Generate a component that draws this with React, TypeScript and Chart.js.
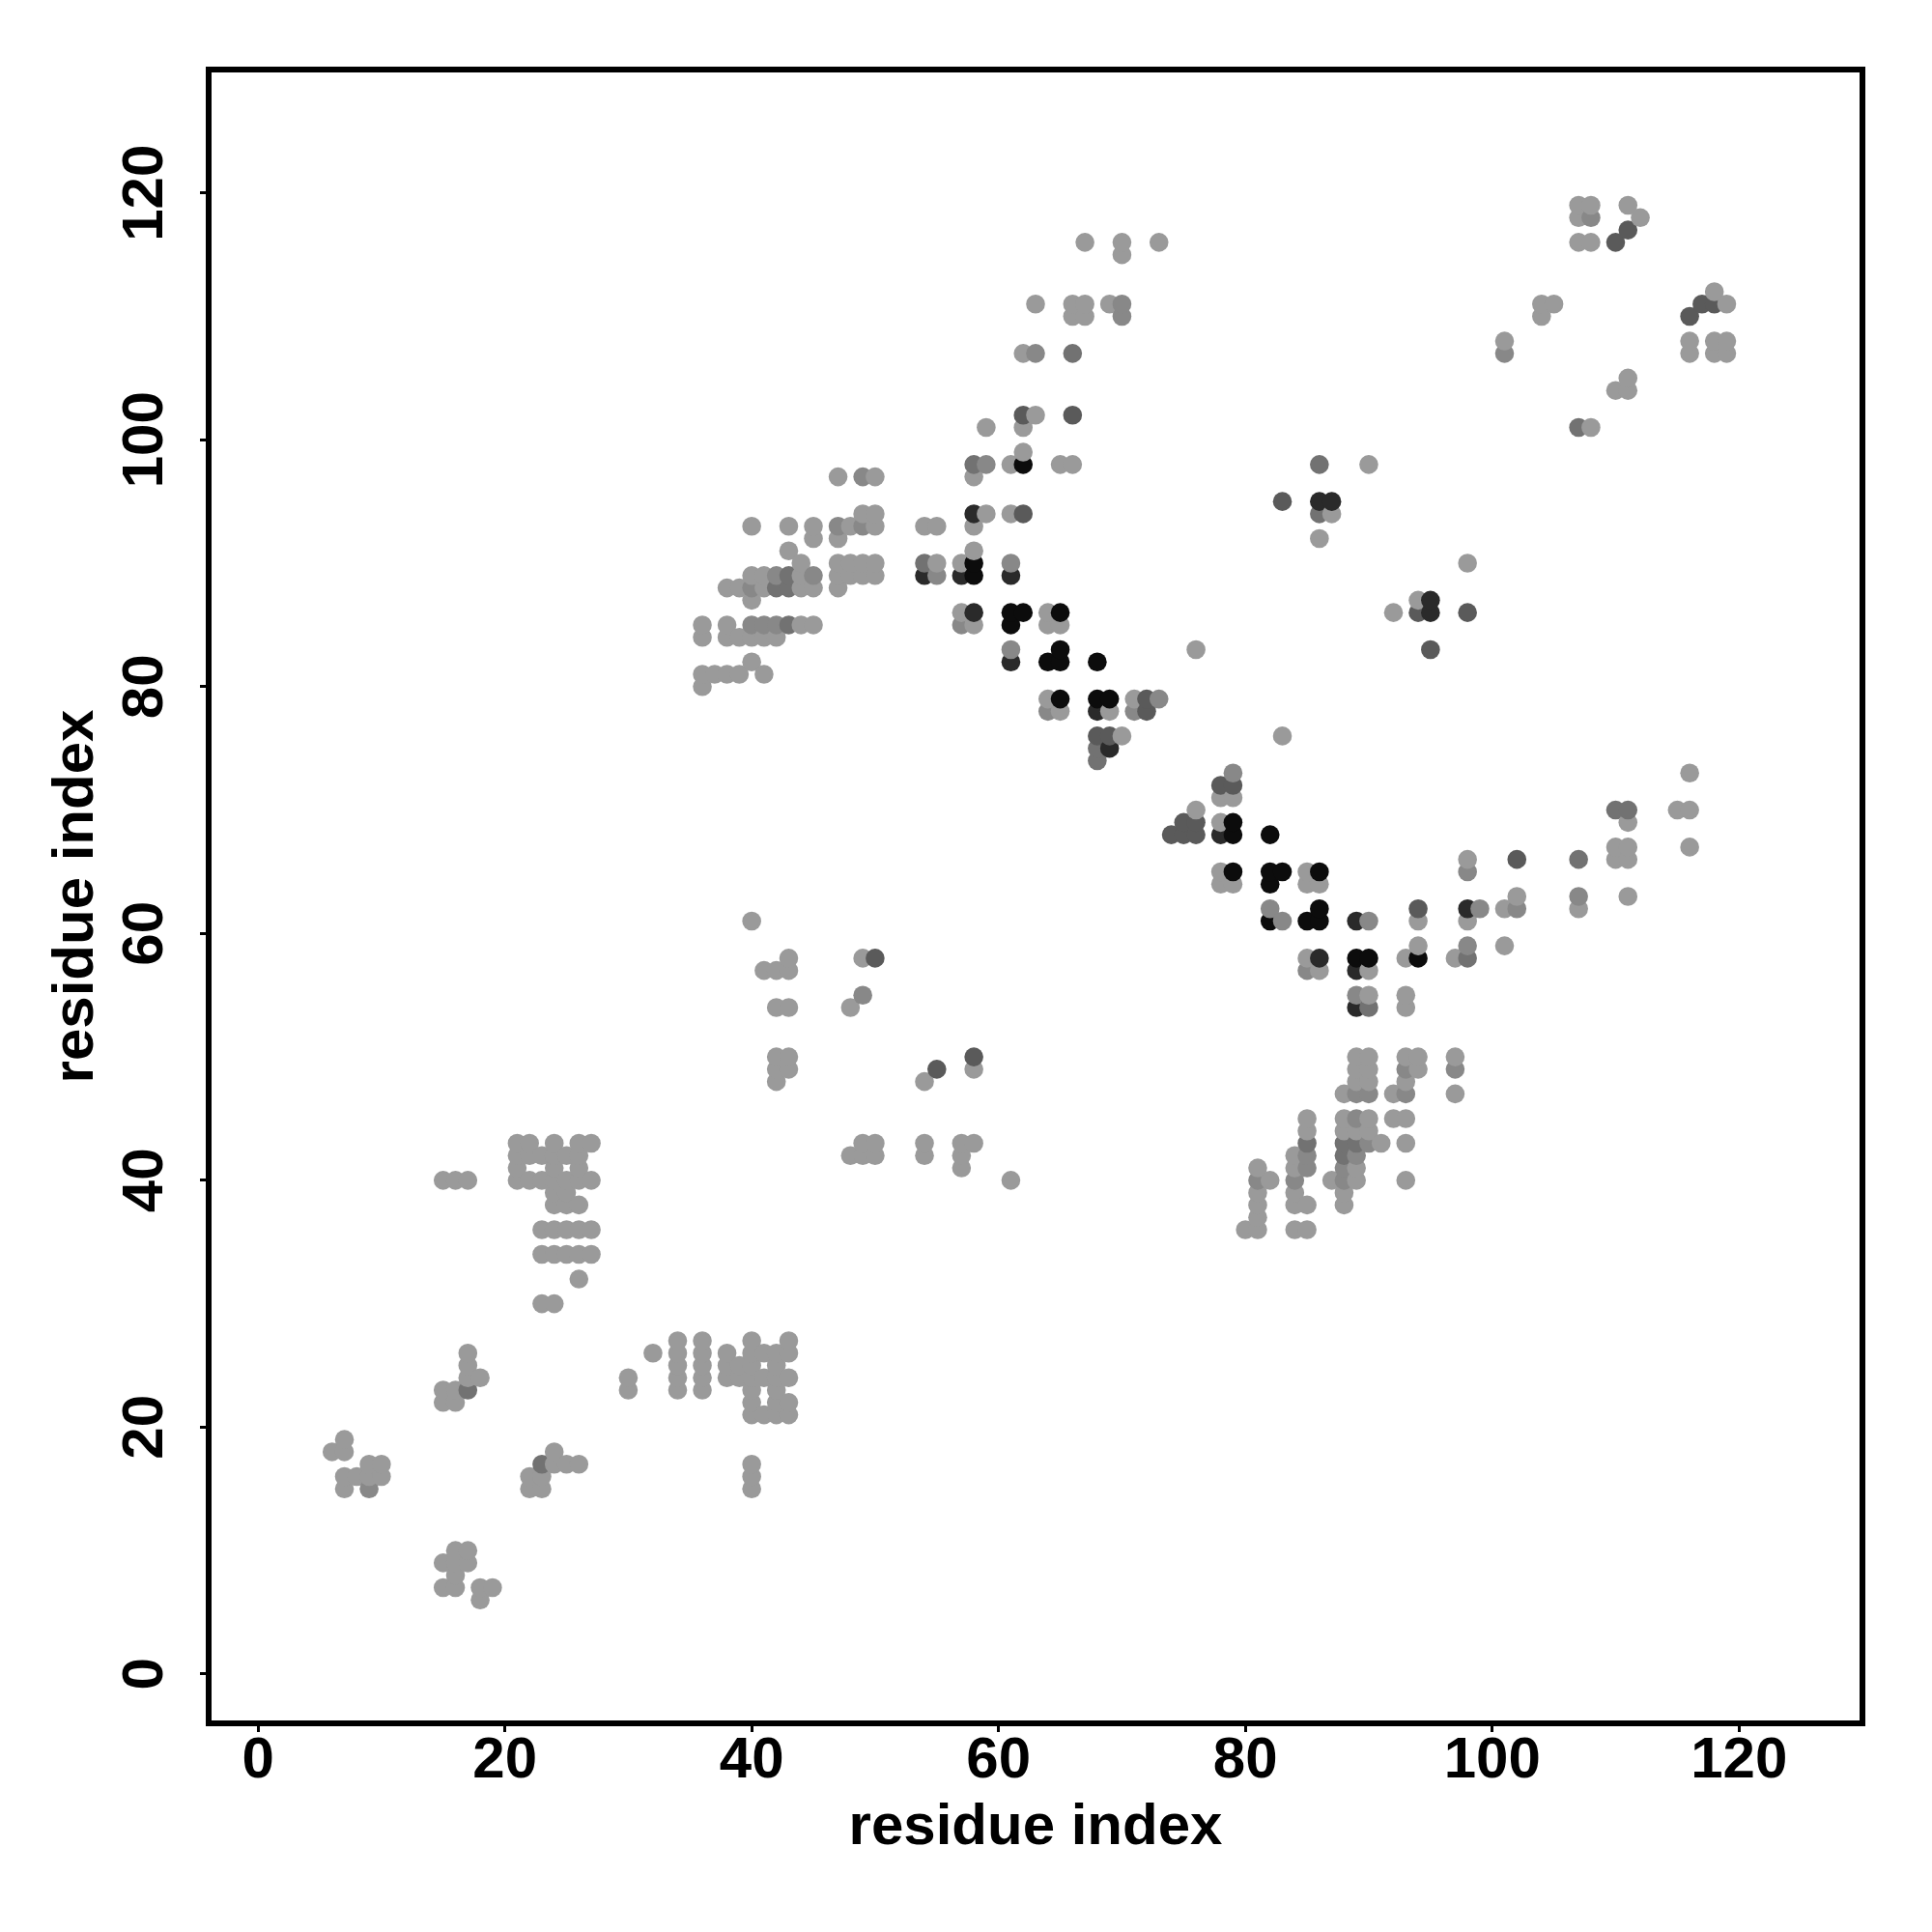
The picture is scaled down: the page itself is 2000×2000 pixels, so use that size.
import React, { useEffect, useRef } from "react";
import { Chart, registerables } from "chart.js";

Chart.register(...registerables);

type Row = [number, number[]];

const tickValues = [0, 20, 40, 60, 80, 100, 120];
const xAxisTitle = "residue index";
const yAxisTitle = "residue index";

// contacts grouped by shade: [residue y, residue x list]
const lightRows: Row[] = [
  [6, [18]],
  [7, [15, 16, 18, 19]],
  [8, [16]],
  [9, [15, 16, 17]],
  [10, [16, 17]],
  [15, [7, 22, 23, 40]],
  [16, [7, 8, 9, 10, 22, 23, 40]],
  [17, [9, 10, 24, 25, 26, 40]],
  [18, [6, 7, 24]],
  [19, [7]],
  [21, [40, 41, 42, 43]],
  [22, [15, 16, 40, 42, 43]],
  [23, [15, 16, 30, 34, 36, 40, 42]],
  [24, [17, 18, 30, 34, 36, 38, 39, 40, 41, 42, 43]],
  [25, [17, 34, 36, 38, 39, 40, 42]],
  [26, [17, 32, 34, 36, 38, 40, 41, 42, 43]],
  [27, [34, 36, 40, 43]],
  [30, [23, 24]],
  [32, [26]],
  [34, [23, 24, 25, 26, 27]],
  [36, [23, 24, 25, 26, 27, 80, 81, 84, 85]],
  [37, [81]],
  [38, [24, 25, 26, 81, 84, 85, 88]],
  [39, [24, 25, 81, 84, 88]],
  [40, [15, 16, 17, 21, 22, 23, 24, 25, 26, 27, 61, 82, 87, 89, 93]],
  [41, [21, 24, 26, 57, 81, 84, 89]],
  [42, [21, 22, 23, 24, 25, 26, 48, 49, 50, 54, 57, 84]],
  [43, [21, 22, 24, 26, 27, 49, 50, 54, 57, 58, 90, 91, 93]],
  [44, [85, 88, 89, 90]],
  [45, [85, 88, 90, 92, 93]],
  [47, [88, 92, 97]],
  [48, [42, 54, 89, 90, 93]],
  [49, [42, 43, 58, 89, 90, 94]],
  [50, [42, 43, 89, 90, 93, 94, 97]],
  [54, [42, 43, 48, 93]],
  [55, [90, 93]],
  [57, [41, 42, 43, 86, 90]],
  [58, [43, 49, 85, 93, 97]],
  [59, [94, 101]],
  [61, [40, 94, 98]],
  [62, [101, 107]],
  [63, [102, 111]],
  [64, [78, 79, 85, 86]],
  [65, [78, 85]],
  [66, [98, 110, 111]],
  [67, [110, 111, 116]],
  [69, [78, 111]],
  [70, [76, 115, 116]],
  [71, [78, 79]],
  [73, [116]],
  [76, [70, 83]],
  [78, [65, 69]],
  [79, [64, 71]],
  [80, [36]],
  [81, [36, 37, 38, 39, 41]],
  [82, [40]],
  [83, [76]],
  [84, [36, 38, 39, 40, 41, 42]],
  [85, [36, 38, 44, 45, 58, 64, 65]],
  [86, [57, 64, 92]],
  [87, [40, 94]],
  [88, [38, 39, 41, 44, 45, 47]],
  [89, [40, 41, 44, 47, 48, 49, 50]],
  [90, [44, 47, 48, 49, 50, 55, 57, 98]],
  [91, [43, 58]],
  [92, [45, 47, 86]],
  [93, [40, 43, 45, 48, 50, 54, 55, 58]],
  [94, [49, 50, 59, 61, 87]],
  [97, [47, 50, 58]],
  [98, [61, 65, 66, 90]],
  [99, [62]],
  [101, [59, 62, 108]],
  [102, [63]],
  [104, [110, 111]],
  [105, [111]],
  [107, [62, 116, 118, 119]],
  [108, [101, 116, 118, 119]],
  [110, [66, 67, 104]],
  [111, [63, 66, 67, 69, 104, 105, 119]],
  [112, [118]],
  [115, [70]],
  [116, [67, 70, 73, 107, 108]],
  [118, [107, 112]],
  [119, [107, 108, 111]],
];
const midRows: Row[] = [
  [15, [9]],
  [40, [81, 84, 88]],
  [41, [85, 88]],
  [42, [85, 89]],
  [43, [90]],
  [45, [89]],
  [47, [89, 90, 93]],
  [49, [93, 97]],
  [55, [49, 89]],
  [57, [85]],
  [59, [98]],
  [61, [83, 90]],
  [62, [82, 99, 102]],
  [63, [107]],
  [65, [98]],
  [73, [79]],
  [78, [64, 71]],
  [79, [73]],
  [83, [61]],
  [85, [40, 41, 42, 57]],
  [88, [40]],
  [89, [42, 45, 55]],
  [90, [61]],
  [93, [47, 49]],
  [97, [49]],
  [98, [59]],
  [107, [63, 101]],
  [118, [108]],
  [110, [70]],
  [111, [70]],
];
const midDarkRows: Row[] = [
  [17, [23]],
  [23, [17]],
  [42, [88]],
  [43, [85, 88, 89]],
  [54, [90]],
  [58, [98]],
  [66, [107]],
  [70, [110, 111]],
  [74, [68]],
  [75, [68]],
  [85, [43]],
  [88, [42, 43]],
  [89, [43]],
  [90, [54]],
  [94, [86]],
  [98, [58, 86]],
  [101, [107]],
  [107, [66]],
];
const darkMidRows: Row[] = [
  [49, [55]],
  [50, [58]],
  [58, [50]],
  [62, [94]],
  [66, [102]],
  [68, [74, 75, 76]],
  [69, [75, 76]],
  [72, [78, 79]],
  [76, [68, 69]],
  [78, [72]],
  [79, [72]],
  [83, [95]],
  [86, [94, 98]],
  [94, [62]],
  [95, [83]],
  [102, [62, 66]],
  [110, [116]],
  [111, [117, 118]],
  [116, [110]],
  [117, [111]],
];
const darkRows: Row[] = [
  [54, [89]],
  [57, [89]],
  [58, [86]],
  [61, [89]],
  [62, [98]],
  [68, [78]],
  [75, [69]],
  [78, [68]],
  [82, [61]],
  [86, [58, 95]],
  [87, [95]],
  [89, [54, 57, 61]],
  [94, [58]],
  [95, [86, 87]],
];
const blackRows: Row[] = [
  [58, [89, 90, 94]],
  [61, [82, 85, 86]],
  [62, [86]],
  [64, [82]],
  [65, [79, 82, 83, 86]],
  [68, [79, 82]],
  [69, [79]],
  [79, [65, 68, 69]],
  [82, [64, 65, 68]],
  [83, [65]],
  [85, [61]],
  [86, [61, 62, 65]],
  [89, [58]],
  [90, [58]],
  [98, [62]],
];

const shades: [Row[], string][] = [
  [lightRows, "#9a9a9a"],
  [midRows, "#888888"],
  [midDarkRows, "#727272"],
  [darkMidRows, "#5a5a5a"],
  [darkRows, "#2a2a2a"],
  [blackRows, "#0c0c0c"],
];

type Contact = { x: number; y: number; shade: string };

function buildContacts(): Contact[] {
  const map = new Map<string, Contact>();
  for (const [rows, shade] of shades) {
    for (const [y, xs] of rows) {
      for (const x of xs) map.set(`${x}:${y}`, { x, y, shade });
    }
  }
  return [...map.values()].sort((a, b) => a.x - b.x || a.y - b.y);
}

const frame = {
  id: "frame",
  afterDraw(chart: any) {
    const { ctx, chartArea: a } = chart;
    ctx.save();
    ctx.strokeStyle = "#000";
    ctx.lineWidth = 6;
    ctx.strokeRect(a.left, a.top, a.right - a.left, a.bottom - a.top);
    ctx.restore();
  },
};

export default function App() {
  const ref = useRef<HTMLCanvasElement>(null);
  useEffect(() => {
    document.body.style.margin = "0";
    const contacts = buildContacts();
    const font = { family: "'Liberation Sans', Arial, sans-serif", weight: "bold" as const, size: 60 };
    const chart = new Chart(ref.current!, {
      type: "scatter",
      data: {
        datasets: [
          {
            data: contacts.map((c) => ({ x: c.x, y: c.y })),
            backgroundColor: contacts.map((c) => c.shade),
            borderWidth: 0,
            pointRadius: 9.8,
            pointHoverRadius: 9.8,
            showLine: false,
          },
        ],
      },
      options: {
        animation: false,
        responsive: false,
        layout: { padding: { left: 0, top: 72, right: 72, bottom: 0 } },
        plugins: { legend: { display: false }, tooltip: { enabled: false } },
        scales: {
          x: {
            type: "linear",
            min: -4,
            max: 130,
            afterFit: (s: any) => { s.height = 216; },
            afterBuildTicks: (s: any) => { s.ticks = tickValues.map((value) => ({ value })); },
            border: { display: false },
            grid: { drawOnChartArea: false, color: "#000", lineWidth: 3, tickLength: 9, drawTicks: true },
            ticks: { color: "#000", font, padding: -6, maxRotation: 0, autoSkip: false },
            title: { display: true, text: xAxisTitle, color: "#000", font, padding: { top: 8, bottom: 72 } },
          },
          y: {
            type: "linear",
            min: -4,
            max: 130,
            afterFit: (s: any) => { s.width = 216; },
            afterBuildTicks: (s: any) => { s.ticks = tickValues.map((value) => ({ value })); },
            border: { display: false },
            grid: { drawOnChartArea: false, color: "#000", lineWidth: 3, tickLength: 9, drawTicks: true },
            ticks: { color: "#000", font, padding: 5, minRotation: 90, maxRotation: 90, crossAlign: "center", autoSkip: false },
            title: { display: true, text: yAxisTitle, color: "#000", font, padding: { top: 43, bottom: 0 } },
          },
        },
      },
      plugins: [frame],
    } as any);
    return () => chart.destroy();
  }, []);
  return <canvas ref={ref} width={2000} height={2000} style={{ display: "block" }} />;
}
